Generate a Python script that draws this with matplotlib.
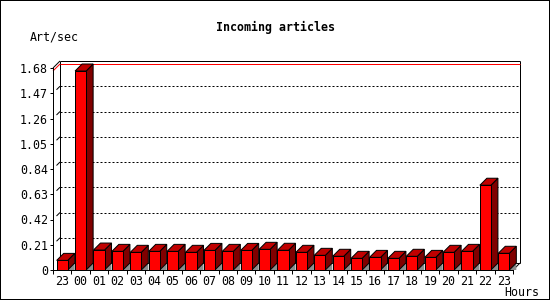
import matplotlib
matplotlib.use("Agg")
import matplotlib.pyplot as plt
from matplotlib.patches import Polygon, Rectangle
from matplotlib.lines import Line2D

hours = ["23", "00", "01", "02", "03", "04", "05", "06", "07", "08", "09", "10",
         "11", "12", "13", "14", "15", "16", "17", "18", "19", "20", "21", "22", "23"]
values = [0.08, 1.655, 0.166, 0.155, 0.147, 0.155, 0.155, 0.147, 0.163, 0.155,
          0.163, 0.172, 0.164, 0.147, 0.122, 0.114, 0.097, 0.105, 0.097, 0.114,
          0.105, 0.147, 0.155, 0.705, 0.139]
yticks = [0, 0.21, 0.42, 0.63, 0.84, 1.05, 1.26, 1.47, 1.68]
title = "Incoming articles"
ylabel = "Art/sec"
xlabel = "Hours"

FRONT = "#ff0000"
TOP = "#c00000"
SIDE = "#800000"
SHADOW = "#8c8c8c"
FONT = "DejaVu Sans Mono"
FS = 8.4
LW = 0.72

plt.rcParams['font.family'] = [FONT, 'DejaVu Sans']

fig = plt.figure(figsize=(5.5, 3), dpi=100)
ax = fig.add_axes([53 / 550, 30 / 300, 460 / 550, 202 / 300])
n = len(values)
xmin, xmax = -0.5, n - 0.5
ymax = yticks[-1]
ax.set_xlim(xmin, xmax)
ax.set_ylim(0, ymax)

# depth offset in data units (7 px right, 7 px up)
p0 = ax.transData.transform((0, 0))
p1 = ax.transData.transform((1, 1))
ddx = 7 / (p1[0] - p0[0])
ddy = 7 / (p1[1] - p0[1])

for s in ["top", "right"]:
    ax.spines[s].set_visible(False)
for s in ["left", "bottom"]:
    ax.spines[s].set_linewidth(LW)
    ax.spines[s].set_zorder(6)

def line(xs, ys, snap=True, **kw):
    kw.setdefault("color", "black")
    kw.setdefault("lw", LW)
    ln = Line2D(xs, ys, clip_on=False, solid_capstyle="butt", **kw)
    ln.set_snap(snap)
    ax.add_line(ln)

# back plane frame
bx0, bx1 = xmin + ddx, xmax + ddx
line([bx0, bx0], [ddy, ymax + ddy], zorder=1)
line([bx1, bx1], [ddy, ymax + ddy], zorder=1)
line([bx0, bx1], [ymax + ddy, ymax + ddy], zorder=1)
line([bx0, bx1], [ddy, ddy], zorder=1)
line([xmin, bx0], [ymax, ymax + ddy], snap=False, zorder=1)
line([xmax, bx1], [0, ddy], snap=False, zorder=1)

# dotted grid lines on back plane
for v in yticks[1:-1]:
    line([bx0, bx1], [v + ddy, v + ddy], ls=(0, (2, 2)), zorder=1)
    line([xmin + ddx * 0.5, bx0], [v + ddy * 0.5, v + ddy], snap=False, zorder=1)

# max line
vmax = max(values)
line([xmin, bx0], [vmax, vmax + ddy], color="red", snap=False, zorder=1.5)
line([bx0, bx1], [vmax + ddy, vmax + ddy], color="red", zorder=1.5)

# bars
w = 0.6
for i, v in enumerate(values):
    xl, xr = i - w / 2, i + w / 2
    ax.add_patch(Polygon([(xr, 0), (xr + ddx, ddy), (xr + ddx, 0)], closed=True,
                         facecolor=SHADOW, edgecolor="none", zorder=2, clip_on=False))
    ax.add_patch(Polygon([(xr, 0), (xr + ddx, ddy), (xr + ddx, v + ddy), (xr, v)],
                         closed=True, facecolor=SIDE, edgecolor="black", lw=LW,
                         zorder=3, clip_on=False))
    ax.add_patch(Polygon([(xl, v), (xl + ddx, v + ddy), (xr + ddx, v + ddy), (xr, v)],
                         closed=True, facecolor=TOP, edgecolor="black", lw=LW,
                         zorder=3, clip_on=False))
ax.bar(range(n), values, width=w, color=FRONT, edgecolor="black", linewidth=LW,
       zorder=4, clip_on=False)

# ticks
ax.set_yticks(yticks)
ax.set_yticklabels(["0" if t == 0 else f"{t:.2f}" for t in yticks])
ax.set_xticks(range(n))
ax.set_xticklabels(hours)
ax.set_xticks([xmin + k for k in range(n + 1)], minor=True)
ax.tick_params(axis="y", which="major", length=2.2, width=LW, pad=1.5,
               labelsize=FS, direction="out")
ax.tick_params(axis="x", which="major", length=0, pad=3.4, labelsize=FS)
ax.tick_params(axis="x", which="minor", length=3.0, width=LW, direction="out")
ax.tick_params(axis="y", which="minor", length=0)

fig.text(275 / 550, 1 - 27 / 300, title, ha="center", va="center",
         fontsize=FS, fontweight="bold", family=FONT)
fig.text(30 / 550, 1 - 37 / 300, ylabel, ha="left", va="center", fontsize=FS, family=FONT)
fig.text(504 / 550, 1 - 292 / 300, xlabel, ha="left", va="center", fontsize=FS, family=FONT)

fig.patches.append(Rectangle((0, 0), 1, 1, transform=fig.transFigure, fill=False,
                             edgecolor="black", lw=1.44, zorder=10))

fig.savefig("out.png", dpi=100)
